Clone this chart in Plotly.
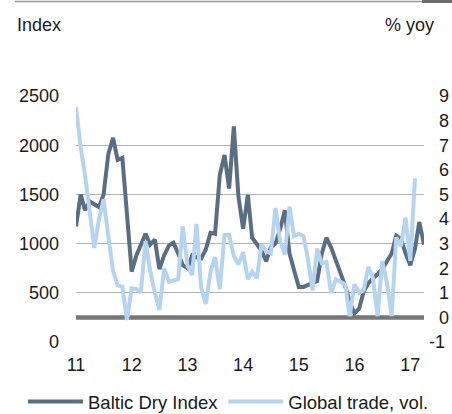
import pandas as pd
import plotly.graph_objects as go

# ---- data ----
months_bdi = pd.date_range("2011-01-01", periods=76, freq="MS")
months_trade = pd.date_range("2011-01-01", periods=74, freq="MS")

baltic_dry_index = [
    1175, 1500, 1340, 1430, 1400, 1370, 1500, 1910, 2075, 1850, 1870, 1290,
    715, 880, 990, 1100, 990, 1040, 740, 880, 980, 1010, 900, 780,
    750, 880, 860, 850, 940, 1110, 1100, 1700, 1900, 1560, 2190, 1480,
    1150, 1495, 1060, 990, 930, 820, 960, 1000, 1150, 1340, 900, 730,
    560, 560, 580, 600, 620, 900, 1060, 960, 830, 720, 570, 410,
    290, 340, 510, 600, 640, 690, 740, 820, 900, 1080, 1050, 900,
    780, 950, 1220, 990,
]

global_trade_yoy = [
    8.55, 6.9, 5.8, 4.3, 2.82, 4.0, 4.8, 3.3, 1.9, 1.3, 1.25, -0.1,
    1.18, 1.15, 1.0, 3.1, 1.9, 1.0, 0.3, 2.0, 1.45, 1.5, 1.55, 3.7,
    2.1, 1.72, 3.8, 1.2, 0.55, 1.85, 2.45, 1.15, 3.35, 3.35, 2.5, 2.15,
    2.65, 1.55, 1.85, 1.6, 2.95, 2.7, 2.6, 4.45, 3.1, 2.55, 4.5, 3.3,
    3.4, 3.3, 2.4, 1.1, 2.8, 2.2, 2.25, 1.0, 1.55, 1.45, 1.35, 0.05,
    1.35, 1.0, 1.1, 2.05, 1.6, 0.05, 2.3, 1.4, 0.05, 3.25, 2.9, 4.05,
    2.3, 5.65,
]

series_names = ["Baltic Dry Index", "Global trade, vol."]
left_title = "Index"
right_title = "% yoy"
left_ticks = [0, 500, 1000, 1500, 2000, 2500]
right_ticks = [-1, 0, 1, 2, 3, 4, 5, 6, 7, 8, 9]
right_tick_labels = ["-1"] + ["\u2007" + str(v) for v in right_ticks[1:]]

DARK = "#5a6e83"
LIGHT = "#b6d4f0"
FONT = "Liberation Sans, Arial, sans-serif"

fig = go.Figure()
fig.add_trace(go.Scatter(
    x=months_bdi, y=baltic_dry_index, name=series_names[0], mode="lines",
    line=dict(color=DARK, width=4), yaxis="y",
))
fig.add_trace(go.Scatter(
    x=months_trade, y=global_trade_yoy, name=series_names[1], mode="lines",
    line=dict(color=LIGHT, width=4), yaxis="y2",
))

fig.update_layout(
    width=452, height=414,
    margin=dict(l=76, r=28, t=96, b=72, autoexpand=False),
    paper_bgcolor="white", plot_bgcolor="white",
    font=dict(family=FONT, size=18, color="#1a1a1a"),
    showlegend=True,
    legend=dict(
        orientation="h",
        x=(23 - 76) / 348, xanchor="left", y=-60 / 246, yanchor="middle",
        font=dict(size=18.5), itemwidth=55, traceorder="normal",
        bgcolor="rgba(0,0,0,0)",
    ),
    xaxis=dict(
        type="date", range=["2011-01-01", "2017-04-01"],
        tickformat="%y", dtick="M12", tick0="2011-01-01",
        showgrid=False, zeroline=False, showline=False,
        ticks="", ticklabelstandoff=10,
    ),
    yaxis=dict(
        range=[0, 2500], tickvals=left_ticks,
        showgrid=True, gridcolor="#b3b3b3", gridwidth=1.3,
        zeroline=False, showline=False, ticks="",
        ticklabelstandoff=16,
    ),
    yaxis2=dict(
        range=[-1, 9], tickvals=right_ticks, ticktext=right_tick_labels,
        overlaying="y", side="right", showgrid=False, zeroline=False,
        showline=False, ticks="", ticklabelstandoff=4,
    ),
    shapes=[
        dict(type="line", xref="paper", yref="y2", x0=0, x1=1, y0=0, y1=0,
             line=dict(color="#777777", width=4.5), layer="between"),
        dict(type="line", xref="paper", yref="paper",
             x0=(15 - 76) / 348, x1=(422 - 76) / 348,
             y0=1 + 94.5 / 246, y1=1 + 94.5 / 246,
             line=dict(color="#9a9a9a", width=1.5)),
        dict(type="rect", xref="paper", yref="paper",
             x0=(422 - 76) / 348, x1=(452 - 76) / 348,
             y0=1 + 93 / 246, y1=1 + 96 / 246,
             line=dict(width=0), fillcolor="#6e6e6e"),
    ],
    annotations=[
        dict(text=left_title, xref="paper", yref="paper",
             x=(15 - 76) / 348, y=1 + 71 / 246, xanchor="left", yanchor="middle",
             showarrow=False, font=dict(size=18)),
        dict(text=right_title, xref="paper", yref="paper",
             x=(436 - 76) / 348, y=1 + 71 / 246, xanchor="right", yanchor="middle",
             showarrow=False, font=dict(size=18)),
    ],
)

fig.write_html("out.html", config={"displayModeBar": False},
               post_script="document.body.style.margin='0px';")
